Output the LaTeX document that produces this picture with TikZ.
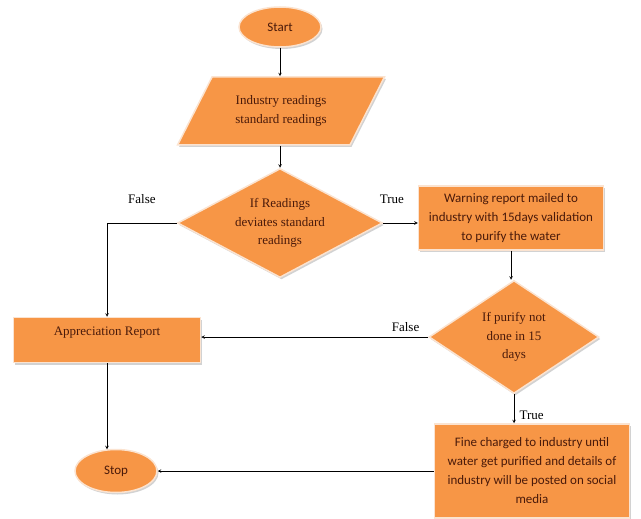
\documentclass[tikz,border=0pt]{standalone}
\usepackage{fontspec}
\setmainfont{Liberation Serif}
\newfontfamily\calibri{Carlito}
\usepackage{tikz}
\usetikzlibrary{shapes.geometric, shadows, positioning}
\definecolor{boxorange}{HTML}{F79646}
\definecolor{boxedge}{HTML}{FBE3D0}
\definecolor{boxtext}{HTML}{4A1A0A}
\tikzset{
->, % every connector gets an arrow head
>=stealth, % small filled heads
every node/.style={font=\fontsize{13}{18.5}\selectfont}, % serif text size
cal/.style={font=\calibri\fontsize{13}{19}\selectfont}, % the Calibri-like boxes
block/.style={fill=boxorange, draw=boxedge, line width=1.5pt, text=boxtext, align=center, inner sep=0pt,
  drop shadow={shadow xshift=1.5pt, shadow yshift=-2pt, fill=black!35}}, % orange shape with shadow
terminal/.style={block, ellipse, cal}, % start / stop
io/.style={block, trapezium, trapezium left angle=53, trapezium right angle=127, trapezium stretches=true}, % input
decision/.style={block, diamond, aspect=1.6}, % yes / no test
process/.style={block, rectangle}, % plain box
}

\begin{document}
\begin{tikzpicture}[x=1pt, y=-1pt, line width=0.6pt]
    \useasboundingbox (0,0) rectangle (641,519);

    \node[terminal, minimum width=82pt, minimum height=40pt] (start) at (280,27) {Start};
    \node[io, minimum width=207pt, minimum height=68pt] (input) at (281,111) {Industry readings\\standard readings};
    \node[decision, minimum width=205pt, minimum height=109pt] (check) at (280,223) {If Readings\\deviates standard\\readings};
    \node[process, cal, minimum width=185pt, minimum height=64pt] (warn) at (511,218) {Warning report mailed to\\industry with 15days validation\\to purify the water};
    \node[decision, minimum width=170pt, minimum height=113pt] (purify) at (514,337) {If purify not\\done in 15\\days};
    \node[process, minimum width=187pt, minimum height=45pt] (appr) at (107,340) {Appreciation Report\\\mbox{}};
    \node[process, cal, minimum width=195pt, minimum height=94pt] (fine) at (532,471) {Fine charged to industry until\\water get purified and details of\\industry will be posted on social\\media};
    \node[terminal, minimum width=82pt, minimum height=43pt] (stop) at (116,471) {Stop};

    \draw (start.south) -- (start.south |- input.north);
    \draw (input.south -| start) -- (check.north);
    \draw (warn.south) -- (warn.south |- purify.north);
    \draw (check.east) -- node[pos=0.25, above=16pt] {True} (check.east -| warn.west);
    \draw (check.west) -| node[pos=0.25, above=16pt] {False} (appr.north);
    \draw (purify.west) -- node[pos=0.1, above=2pt] {False} (purify.west -| appr.east);
    \draw (purify.south) -- node[pos=0.73, right=2pt] {True} (purify.south |- fine.north);
    \draw (appr.south) -- (appr.south |- stop.113);
    \draw (fine.west) -- (stop.east);
\end{tikzpicture}
\end{document}
